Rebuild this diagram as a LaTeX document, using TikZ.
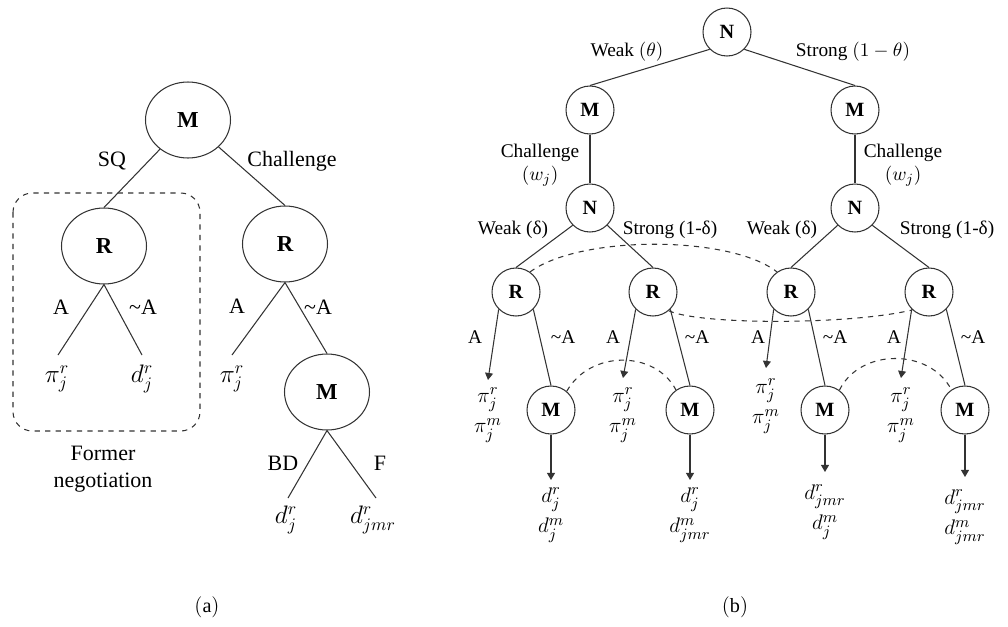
\documentclass[tikz,border=0pt]{standalone}
\usepackage{amsmath, amssymb}
\usepackage{fontspec}
\setmainfont{Liberation Serif}
\usepackage{tikz}
\usetikzlibrary{shapes.geometric, arrows.meta}

\tikzset{
  bigplayer/.style={draw, ellipse, minimum width=1.7cm, minimum height=1.52cm, inner sep=0pt, font=\fontsize{13}{15}\selectfont\bfseries},
  player/.style={draw, circle, minimum size=0.96cm, inner sep=0pt, font=\fontsize{11.5}{13}\selectfont\bfseries},
  biglbl/.style={font=\fontsize{12.5}{15}\selectfont, align=center},
  lbl/.style={font=\fontsize{11}{13.5}\selectfont, align=center},
  bigpay/.style={font=\fontsize{14}{16}\selectfont, inner sep=1pt},
  pay/.style={font=\fontsize{13}{14.5}\selectfont, align=center, inner sep=1pt},
  infoset/.style={dashed, line width=0.6pt},
  move/.style={-{Triangle[length=4pt, width=4.5pt]}},
}

\begin{document}
\begin{tikzpicture}[x=0.02cm, y=-0.02cm, line width=0.6pt, draw=black!80]
\useasboundingbox (0,0) rectangle (1008,626);

% (a)
\node[bigplayer] (m0) at (188,120) {M};
\node[bigplayer] (r1) at (104,246) {R};
\node[bigplayer] (r2) at (285,244) {R};
\node[bigplayer] (m1) at (327,392) {M};
\draw (m0) -- (r1.north);
\draw (m0) -- (r2.north);
\draw (r2.south) -- (m1.north);
\node[biglbl] (sq) at (112,161) {SQ};
\node[biglbl] (ch) at (292,161) {Challenge};

\coordinate (p1) at (58,355);
\coordinate (p2) at (142,355);
\coordinate (p3) at (232,355);
\coordinate (p4) at (288,498);
\coordinate (p5) at (376,498);
\draw (r1.south) -- (p1);
\draw (r1.south) -- (p2);
\draw (r2.south) -- (p3);
\draw (m1.south) -- (p4);
\draw (m1.south) -- (p5);

\node[biglbl] (a1) at (61,307) {A};
\node[biglbl] (na1) at (143,307) {\textasciitilde A};
\node[biglbl] (a2) at (237,306) {A};
\node[biglbl] (na2) at (318,307) {\textasciitilde A};
\node[biglbl] (bd) at (283,463) {BD};
\node[biglbl] (f) at (380,463) {F};

\node[bigpay] (u1) at (57,379) {$\pi^r_j$};
\node[bigpay] (u2) at (142,379) {$d^r_j$};
\node[bigpay] (u3) at (232,379) {$\pi^r_j$};
\node[bigpay] (u4) at (286,520) {$d^r_j$};
\node[bigpay] (u5) at (373,520) {$d^r_{jmr}$};

\draw[dashed, rounded corners=11pt] (13,193) rectangle (200,431);
\node[biglbl] (former) at (103,469) {Former\\negotiation};

% (b)
\node[player] (n0) at (727,32) {N};
\node[player] (ml) at (590,110) {M};
\node[player] (mr) at (855,110) {M};
\node[player] (nl) at (590,208) {N};
\node[player] (nr) at (855,208) {N};
\draw (n0.south west) -- (ml.north);
\draw (n0.south east) -- (mr.north);
\draw (ml.south) -- (nl.north);
\draw (mr.south) -- (nr.north);
\node[lbl] (wt) at (627,52) {Weak $(\theta)$};
\node[lbl] (st) at (853,52) {Strong $(1-\theta)$};
\node[lbl] (cl) at (540,165) {Challenge\\$(w_j)$};
\node[lbl] (cr) at (903,165) {Challenge\\$(w_j)$};

\foreach \i/\x in {1/516, 2/653, 3/791, 4/929}
  \node[player] (rb\i) at (\x,292) {R};
\foreach \i/\x in {1/551, 2/690, 3/825, 4/965}
  \node[player] (ma\i) at (\x,410) {M};

\draw (nl.south west) -- (rb1.north);
\draw (nl.south east) -- (rb2.north);
\draw (nr.south west) -- (rb3.north);
\draw (nr.south east) -- (rb4.north);
\node[lbl] (wd1) at (513,230) {Weak (δ)};
\node[lbl] (sd1) at (670,230) {Strong (1-δ)};
\node[lbl] (wd2) at (782,230) {Weak (δ)};
\node[lbl] (sd2) at (947,230) {Strong (1-δ)};

\foreach \i/\x/\y in {1/475/563, 2/613/697, 3/758/835, 4/894/973} {
  \node[lbl] (ab\i) at (\x,337) {A};
  \node[lbl] (nab\i) at (\y,337) {\textasciitilde A};
}
\foreach \i/\x/\y in {1/488/380, 2/623/378, 3/766/368, 4/901/378} {
  \coordinate (e\i) at (\x,\y);
  \draw[move] (rb\i.south west) -- (e\i);
  \draw (rb\i.south east) -- (ma\i.north);
}
\foreach \i/\y in {1/480, 2/480, 3/472, 4/477} {
  \coordinate (f\i) at (ma\i.south |- 0,\y);
  \draw[move] (ma\i.south) -- (f\i);
}

\node[pay] (v1) at (488,415) {$\pi^r_j$\\[3pt]$\pi^m_j$};
\node[pay] (v2) at (623,415) {$\pi^r_j$\\[3pt]$\pi^m_j$};
\node[pay] (v3) at (766,406) {$\pi^r_j$\\[3pt]$\pi^m_j$};
\node[pay] (v4) at (901,415) {$\pi^r_j$\\[3pt]$\pi^m_j$};
\node[pay] (w1) at (551,515) {$d^r_j$\\[3pt]$d^m_j$};
\node[pay] (w2) at (690,515) {$d^r_j$\\[3pt]$d^m_{jmr}$};
\node[pay] (w3) at (825,512) {$d^r_{jmr}$\\[3pt]$d^m_j$};
\node[pay] (w4) at (965,517) {$d^r_{jmr}$\\[3pt]$d^m_{jmr}$};

\draw[infoset] (rb1.55) .. controls (580,235) and (730,235) .. (rb3.125);
\draw[infoset] (rb2.-50) .. controls (700,325) and (850,325) .. (rb4.-133);
\draw[infoset] (ma1.50) .. controls (590,350) and (655,350) .. (ma2.125);
\draw[infoset] (ma3.54) .. controls (860,348) and (930,348) .. (ma4.124);

\node[font=\fontsize{11.5}{14}\selectfont] (capa) at (207,607) {$(\mathrm{a})$};
\node[font=\fontsize{11.5}{14}\selectfont] (capb) at (735,607) {$(\mathrm{b})$};
\end{tikzpicture}
\end{document}
